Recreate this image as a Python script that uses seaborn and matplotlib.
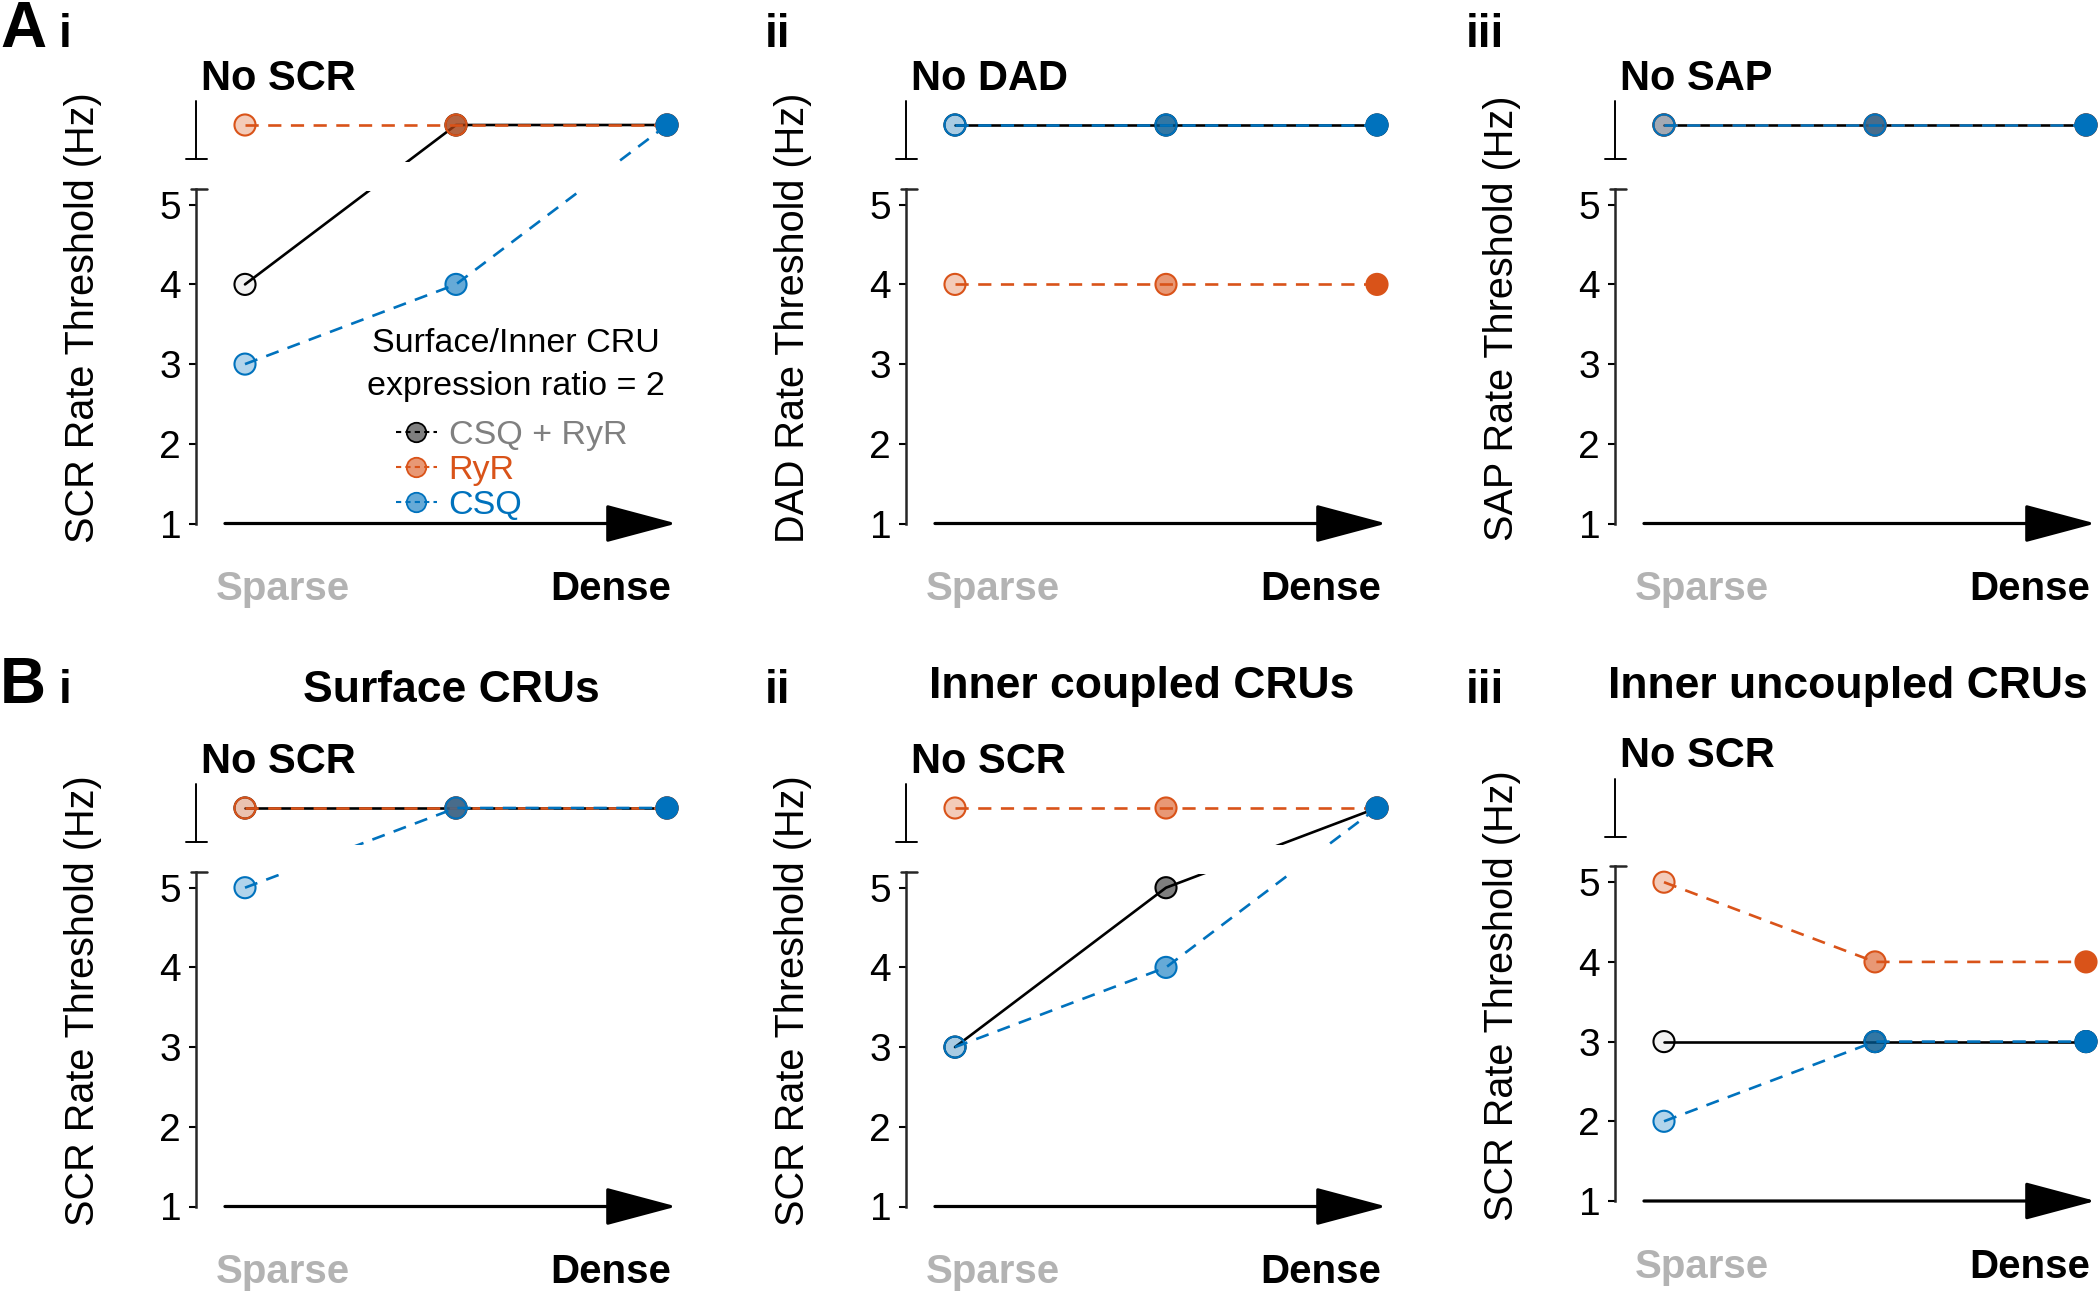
import matplotlib
matplotlib.use("Agg")
import matplotlib.pyplot as plt
import seaborn as sns
from matplotlib.lines import Line2D
from matplotlib.colors import to_rgba

sns.set_style("ticks")
plt.rcParams['font.family'] = ['Liberation Sans', 'DejaVu Sans']
plt.rcParams['text.color'] = 'black'
plt.rcParams['axes.labelcolor'] = 'black'

# x = CRU density (sparse -> dense); y = rate threshold in Hz,
# value 6 stands for the "No SCR / DAD / SAP" level above the axis break
density = [0, 1, 2]

ai_csq_ryr = [4, 6, 6]
ai_ryr = [6, 6, 6]
ai_csq = [3, 4, 6]

aii_csq_ryr = [6, 6, 6]
aii_ryr = [4, 4, 4]
aii_csq = [6, 6, 6]

aiii_csq_ryr = [6, 6, 6]
aiii_ryr = [6, 6, 6]
aiii_csq = [6, 6, 6]

bi_csq_ryr = [6, 6, 6]
bi_ryr = [6, 6, 6]
bi_csq = [5, 6, 6]

bii_csq_ryr = [3, 5, 6]
bii_ryr = [6, 6, 6]
bii_csq = [3, 4, 6]

biii_csq_ryr = [3, 3, 3]
biii_ryr = [5, 4, 4]
biii_csq = [2, 3, 3]

series_names = ['CSQ + RyR', 'RyR', 'CSQ']
ylabels = ['SCR Rate Threshold (Hz)', 'DAD Rate Threshold (Hz)', 'SAP Rate Threshold (Hz)',
           'SCR Rate Threshold (Hz)', 'SCR Rate Threshold (Hz)', 'SCR Rate Threshold (Hz)']
no_event = ['No SCR', 'No DAD', 'No SAP', 'No SCR', 'No SCR', 'No SCR']
sub_labels = ['i', 'ii', 'iii']
row_b_titles = ['Surface CRUs', 'Inner coupled CRUs', 'Inner uncoupled CRUs']

panels = [
    [ai_csq_ryr, ai_ryr, ai_csq],
    [aii_csq_ryr, aii_ryr, aii_csq],
    [aiii_csq_ryr, aiii_ryr, aiii_csq],
    [bi_csq_ryr, bi_ryr, bi_csq],
    [bii_csq_ryr, bii_ryr, bii_csq],
    [biii_csq_ryr, biii_ryr, biii_csq],
]

BLUE = '#0072BD'
ORANGE = '#D95319'
styles = {
    'CSQ + RyR': dict(color='black', ls='-', alphas=(0.05, 0.5, 1.0)),
    'RyR': dict(color=ORANGE, ls=(0, (5.0, 3.6)), alphas=(0.3, 0.6, 1.0)),
    'CSQ': dict(color=BLUE, ls=(0, (5.0, 3.6)), alphas=(0.3, 0.6, 1.0)),
}

# layout (pixels of the 2100x1294 output)
W, H = 2100, 1294
XMIN, XMAX = -0.23, 2.1
YMIN, YMAX = 0.9, 6.4
UX, UY = 211.0, 79.7
col_x0 = [245, 955, 1664]
row_y1 = [[523.5, 523.5, 523.5], [1206.5, 1206.5, 1201]]

fig = plt.figure(figsize=(21, 12.94), dpi=100)

for idx, data in enumerate(panels):
    r, c = divmod(idx, 3)
    x0, y1 = col_x0[c], row_y1[r][c]
    left = x0 + XMIN * UX
    width = (XMAX - XMIN) * UX
    height = (YMAX - YMIN) * UY
    bottom = y1 + (1 - YMIN) * UY
    ax = fig.add_axes([left / W, 1 - bottom / H, width / W, height / H])

    for k, (name, vals) in enumerate(zip(series_names, data)):
        st = styles[name]
        sns.lineplot(x=density, y=vals, ax=ax, color=st['color'], linestyle=st['ls'],
                     lw=1.9, legend=False, zorder=2 + 0.2 * k)
        faces = [to_rgba(st['color'], a) for a in st['alphas']]
        ax.scatter(density, vals, s=230, facecolors=faces, edgecolors=st['color'],
                   linewidths=1.5, zorder=2.1 + 0.2 * k, clip_on=False)

    # broken y axis
    ax.axhspan(5.17, 5.54, xmin=0.03, xmax=1, color='white', lw=0, zorder=5)
    ax.set_xlim(XMIN, XMAX)
    ax.set_ylim(YMIN, YMAX)
    sns.despine(ax=ax, bottom=True)
    ax.spines['left'].set_bounds(1, 5.2)
    ax.spines['left'].set_linewidth(1.8)
    ax.spines['left'].set_color('#262626')
    ax.plot([XMIN - 0.025, XMIN + 0.05], [5.2, 5.2], color='#262626', lw=1.8, clip_on=False)
    ax.plot([XMIN, XMIN], [5.57, 6.3], color='black', lw=1.4, clip_on=False)
    ax.plot([XMIN - 0.05, XMIN + 0.05], [5.57, 5.57], color='black', lw=1.4, clip_on=False)

    ax.set_xticks([])
    ax.set_yticks([1, 2, 3, 4, 5])
    ax.tick_params(axis='y', direction='out', length=5, width=1.5, pad=6,
                   labelsize=28, colors='black')
    ax.set_ylabel(ylabels[idx], fontsize=28.5)
    ax.yaxis.set_label_coords(((x0 - 143) - left) / width, (3.58 - YMIN) / (YMAX - YMIN))

    # density arrow in place of the x axis
    ax.annotate('', xy=(2.045, 1), xytext=(-0.095, 1), xycoords='data',
                arrowprops=dict(arrowstyle='-|>,head_length=4.5,head_width=1.2',
                                mutation_scale=10, lw=2.3, color='black',
                                shrinkA=0, shrinkB=0), annotation_clip=False)
    ax.text(-0.14, 0.04, 'Sparse', color='#b3b3b3', fontsize=29, fontweight='bold',
            ha='left', va='baseline', clip_on=False)
    ax.text(2.02, 0.04, 'Dense', color='black', fontsize=29, fontweight='bold',
            ha='right', va='baseline', clip_on=False)
    ax.text(-0.21, 6.44, no_event[idx], fontsize=30, fontweight='bold',
            ha='left', va='baseline', clip_on=False)

    if idx == 0:
        handles = []
        for name in series_names:
            st = styles[name]
            handles.append(Line2D([0], [0], color=st['color'], ls=(0, (2.5, 2)), lw=1.5,
                                  marker='o', markersize=14,
                                  markerfacecolor=to_rgba(st['color'], 0.5 if name == 'CSQ + RyR' else 0.6),
                                  markeredgecolor=st['color'], markeredgewidth=1.3))
        ax.legend(handles, series_names, loc='upper left',
                  bbox_to_anchor=(396 / W, 1 - 420 / H), bbox_transform=fig.transFigure,
                  frameon=False, fontsize=24.5, labelcolor=['#808080', ORANGE, BLUE],
                  handlelength=1.2, handletextpad=0.35, labelspacing=0.12,
                  borderpad=0, borderaxespad=0)
        fig.text(516 / W, 1 - 343 / H, 'Surface/Inner CRU', fontsize=24.5,
                 ha='center', va='center')
        fig.text(516 / W, 1 - 387 / H, 'expression ratio = 2', fontsize=24.5,
                 ha='center', va='center')

# panel letters and titles
fig.text(0 / W, 1 - 47 / H, 'A', fontsize=46, fontweight='bold', ha='left', va='baseline')
fig.text(0 / W, 1 - 703 / H, 'B', fontsize=46, fontweight='bold', ha='left', va='baseline')
for c, sx in enumerate([59, 765, 1466]):
    fig.text(sx / W, 1 - 47 / H, sub_labels[c], fontsize=33, fontweight='bold',
             ha='left', va='baseline')
    fig.text(sx / W, 1 - 703 / H, sub_labels[c], fontsize=33, fontweight='bold',
             ha='left', va='baseline')
for c, (tx, ty) in enumerate([(451, 702), (1142, 698), (1848, 698)]):
    fig.text(tx / W, 1 - ty / H, row_b_titles[c], fontsize=32, fontweight='bold',
             ha='center', va='baseline')

fig.savefig('out.png', dpi=100)
